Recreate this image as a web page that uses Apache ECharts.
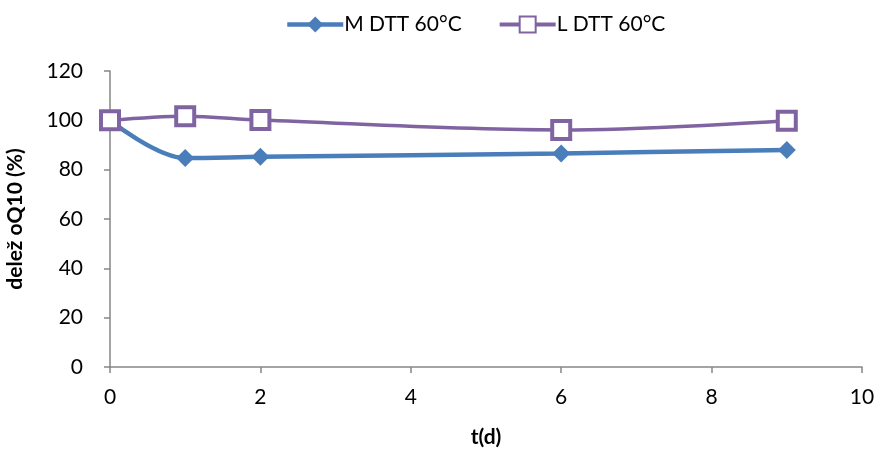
<!DOCTYPE html>
<html>
<head>
<meta charset="utf-8">
<script src="https://cdn.jsdelivr.net/npm/echarts@6/dist/echarts.min.js"></script>
<style>
  html, body { margin: 0; padding: 0; background: #fff; }
  #chart { width: 878px; height: 455px; }
</style>
</head>
<body>
<div id="chart"></div>
<script>
// Days of storage
const days = [0, 1, 2, 6, 9];
// Share of oQ10 remaining (%)
const seriesM = [100, 84.7, 85.2, 86.6, 88.0];
const seriesL = [100, 101.7, 100.1, 96.1, 99.8];
const seriesNames = ['M DTT 60°C', 'L DTT 60°C'];
const xTicks = [0, 2, 4, 6, 8, 10];
const yTicks = [0, 20, 40, 60, 80, 100, 120];

const axisGrey = '#868686';
const blue = '#4A7EBB';
const purple = '#8064A2';
const fontFamily = 'Lato, "Open Sans", sans-serif';
const fs = 21;

const pairs = (xs, ys) => xs.map((x, i) => [x, ys[i]]);

const chart = echarts.init(document.getElementById('chart'));
chart.setOption({
  animation: false,
  textStyle: { fontFamily: fontFamily },
  grid: { left: 110, right: 16, top: 71, bottom: 88, containLabel: false, outerBoundsMode: 'none' },
  legend: {
    top: 9,
    left: 280,
    itemWidth: 56,
    itemHeight: 20,
    itemGap: 36,
    textStyle: { fontSize: fs, color: '#000', fontFamily: fontFamily, padding: [0, 0, 0, -4] },
    data: [
      { name: seriesNames[0], lineStyle: { width: 4.5, color: blue } },
      { name: seriesNames[1], lineStyle: { width: 4, color: purple } }
    ]
  },
  xAxis: {
    type: 'value',
    min: xTicks[0],
    max: xTicks[xTicks.length - 1],
    interval: 2,
    name: 't(d)',
    nameLocation: 'middle',
    nameGap: 60,
    nameTextStyle: { fontSize: fs, fontWeight: 'bold', color: '#000' },
    axisLine: { lineStyle: { color: axisGrey, width: 1.5 } },
    axisTick: { show: true, length: 6, lineStyle: { color: axisGrey, width: 1.5 } },
    axisLabel: { fontSize: fs, color: '#000', margin: 20 },
    splitLine: { show: false }
  },
  yAxis: {
    type: 'value',
    min: yTicks[0],
    max: yTicks[yTicks.length - 1],
    interval: 20,
    name: 'delež oQ10 (%)',
    nameLocation: 'middle',
    nameGap: 84,
    nameRotate: 90,
    nameTextStyle: { fontSize: fs, fontWeight: 'bold', color: '#000' },
    axisLine: { show: true, lineStyle: { color: axisGrey, width: 1.5 } },
    axisTick: { show: true, length: 6, lineStyle: { color: axisGrey, width: 1.5 } },
    axisLabel: { fontSize: fs, color: '#000', margin: 27 },
    splitLine: { show: false }
  },
  series: [
    {
      name: seriesNames[0],
      type: 'line',
      data: pairs(days, seriesM),
      smooth: 0.35,
      symbol: 'diamond',
      symbolSize: 18,
      lineStyle: { color: blue, width: 4.5 },
      itemStyle: { color: blue, borderColor: blue, borderWidth: 0 },
      z: 2
    },
    {
      name: seriesNames[1],
      type: 'line',
      data: pairs(days, seriesL),
      smooth: 0.35,
      symbol: 'rect',
      symbolSize: 18,
      lineStyle: { color: purple, width: 3.5 },
      itemStyle: { color: '#FFFFFF', borderColor: purple, borderWidth: 4 },
      z: 3
    }
  ]
});
</script>
</body>
</html>
